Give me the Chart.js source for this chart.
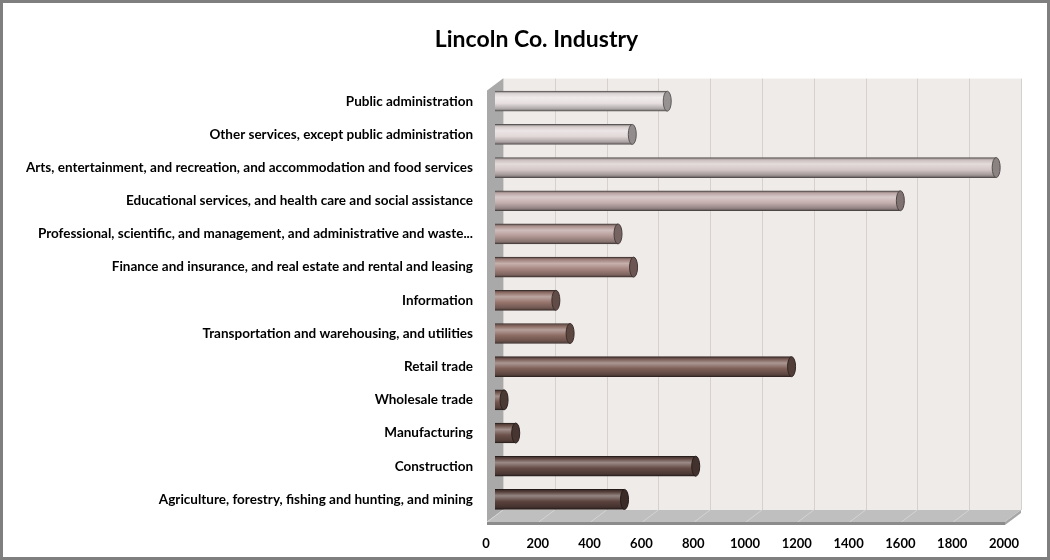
<!DOCTYPE html>
<html>
<head>
<meta charset="utf-8">
<script src="https://cdn.jsdelivr.net/npm/chart.js@4"></script>
<style>
  html, body { margin: 0; padding: 0; background: #fff; }
  #wrap { width: 1050px; height: 560px; }
</style>
</head>
<body>
<div id="wrap"><canvas id="industry-chart" width="1050" height="560"></canvas></div>
<script>
const industries = [
    'Public administration',
    'Other services, except public administration',
    'Arts, entertainment, and recreation, and accommodation and food services',
    'Educational services, and health care and social assistance',
    'Professional, scientific, and management, and administrative and waste management services',
    'Finance and insurance, and real estate and rental and leasing',
    'Information',
    'Transportation and warehousing, and utilities',
    'Retail trade',
    'Wholesale trade',
    'Manufacturing',
    'Construction',
    'Agriculture, forestry, fishing and hunting, and mining'
];
const employed = [665, 530, 1935, 1565, 475, 535, 235, 290, 1145, 35, 80, 775, 500];
const barColors = ['#e8e0e0', '#e2d8d8', '#d6c8c8', '#c4afae', '#b59a97', '#a6857f',
    '#97756d', '#8d6c63', '#7d5f57', '#745750', '#6d524b', '#654b45', '#5b433e'];
const xTicks = [0, 200, 400, 600, 800, 1000, 1200, 1400, 1600, 1800, 2000];

const FONT = 'Lato, "Open Sans", sans-serif';
const DX = 8, DY = 6;   // fake depth offset

function shade(hex, f) {
    const n = parseInt(hex.slice(1), 16);
    let r = n >> 16, g = (n >> 8) & 255, b = n & 255;
    const m = c => f < 0 ? Math.round(c * (1 + f)) : Math.round(c + (255 - c) * f);
    return 'rgb(' + m(r) + ',' + m(g) + ',' + m(b) + ')';
}

function cylinderFill(context) {
    const chart = context.chart;
    const yScale = chart.scales.y;
    if (!yScale || !chart.chartArea) return barColors[context.dataIndex];
    const base = barColors[context.dataIndex];
    const yc = yScale.getPixelForValue(context.dataIndex);
    const g = chart.ctx.createLinearGradient(0, yc - 10, 0, yc + 10);
    g.addColorStop(0, shade(base, -0.45));
    g.addColorStop(0.12, shade(base, -0.05));
    g.addColorStop(0.32, shade(base, 0.35));
    g.addColorStop(0.6, base);
    g.addColorStop(0.88, shade(base, -0.25));
    g.addColorStop(1, shade(base, -0.55));
    return g;
}

// walls, floor and frame drawn behind the bars
const stage = {
    id: 'stage',
    afterLayout(chart) {
        // centre the title like the original (offset to the right)
        const t = chart.titleBlock;
        if (t) { t.left = 60; t.right = 1013; }
    },
    beforeDraw(chart) {
        const c = chart.ctx, a = chart.chartArea, x = chart.scales.x;
        const x0 = x.getPixelForValue(0), x1 = x.getPixelForValue(2000);
        const top = a.top, bot = a.bottom;
        c.save();
        // back wall
        c.fillStyle = '#efebe9';
        c.fillRect(x0 + DX, top - DY, x1 - x0, bot - top);
        c.strokeStyle = '#d6d1cf';
        c.lineWidth = 1;
        xTicks.forEach(v => {
            const px = Math.round(x.getPixelForValue(v) + DX) + 0.5;
            c.beginPath();
            c.moveTo(px, top - DY);
            c.lineTo(px, bot - DY);
            c.stroke();
        });
        // left wall
        c.fillStyle = '#a9a9a9';
        c.beginPath();
        c.moveTo(x0 - DX, top + DY);
        c.lineTo(x0 + DX, top - DY);
        c.lineTo(x0 + DX, bot - DY);
        c.lineTo(x0 - DX, bot + DY);
        c.closePath();
        c.fill();
        // floor
        c.fillStyle = '#bfbfbf';
        c.beginPath();
        c.moveTo(x0 - DX, bot + DY);
        c.lineTo(x0 + DX, bot - DY);
        c.lineTo(x1 + DX, bot - DY);
        c.lineTo(x1 - DX, bot + DY);
        c.closePath();
        c.fill();
        c.strokeStyle = '#d4d4d4';
        xTicks.forEach(v => {
            const px = x.getPixelForValue(v);
            c.beginPath();
            c.moveTo(px - DX, bot + DY);
            c.lineTo(px + DX, bot - DY);
            c.stroke();
        });
        c.fillStyle = '#8c8c8c';
        c.fillRect(x0 - DX, bot + DY, x1 - x0, 3);
        c.fillStyle = '#a6a6a6';
        c.beginPath();
        c.moveTo(x1 - DX, bot + DY);
        c.lineTo(x1 + DX, bot - DY);
        c.lineTo(x1 + DX, bot - DY + 3);
        c.lineTo(x1 - DX, bot + DY + 3);
        c.closePath();
        c.fill();
        c.restore();
    },
    afterDatasetsDraw(chart) {
        // round end caps on the cylinders
        const c = chart.ctx;
        chart.getDatasetMeta(0).data.forEach((bar, i) => {
            const base = barColors[i];
            const h = bar.height / 2;
            c.save();
            c.fillStyle = shade(base, -0.35);
            c.strokeStyle = shade(base, -0.6);
            c.lineWidth = 1;
            c.beginPath();
            c.ellipse(bar.x, bar.y, 4, h, 0, 0, Math.PI * 2);
            c.fill();
            c.stroke();
            c.restore();
        });
    },
    afterDraw(chart) {
        const c = chart.ctx;
        c.save();
        c.strokeStyle = '#7f7f7f';
        c.lineWidth = 3;
        c.strokeRect(1.5, 1.5, chart.width - 3, chart.height - 3);
        c.restore();
    }
};

const ctx = document.getElementById('industry-chart').getContext('2d');
const chart = new Chart(ctx, {
    type: 'bar',
    data: {
        labels: industries,
        datasets: [{
            label: 'Lincoln Co. Industry',
            data: employed,
            backgroundColor: cylinderFill,
            borderColor: barColors.map(col => shade(col, -0.6)),
            borderWidth: { top: 1, bottom: 1, left: 0, right: 0 },
            borderSkipped: false,
            barThickness: 20
        }]
    },
    options: {
        indexAxis: 'y',
        responsive: false,
        animation: false,
        layout: { padding: { top: 12, left: 0, right: 37, bottom: 0 } },
        plugins: {
            legend: { display: false },
            tooltip: { enabled: false },
            title: {
                display: true,
                text: 'Lincoln Co. Industry',
                color: '#000',
                font: { family: FONT, size: 23, weight: 'bold' },
                padding: { top: 14, bottom: 31 }
            }
        },
        scales: {
            x: {
                min: 0,
                max: 2000,
                afterFit: s => { s.height = 44; },
                ticks: {
                    stepSize: 200,
                    color: '#000',
                    font: { family: FONT, size: 13, weight: 'bold' },
                    padding: 20,
                    labelOffset: -9,
                    maxRotation: 0,
                    callback: v => String(v)
                },
                grid: { display: false, drawTicks: false },
                border: { display: false }
            },
            y: {
                afterFit: s => { s.width = 495; },
                ticks: {
                    color: '#000',
                    font: { family: FONT, size: 13.5, weight: 'bold' },
                    padding: 22,
                    autoSkip: false,
                    callback: function (value) {
                        const name = this.getLabelForValue(value);
                        return name.length > 74 ? name.slice(0, 70) + '...' : name;
                    }
                },
                grid: { display: false, drawTicks: false },
                border: { display: false }
            }
        }
    },
    plugins: [stage]
});
</script>
</body>
</html>
